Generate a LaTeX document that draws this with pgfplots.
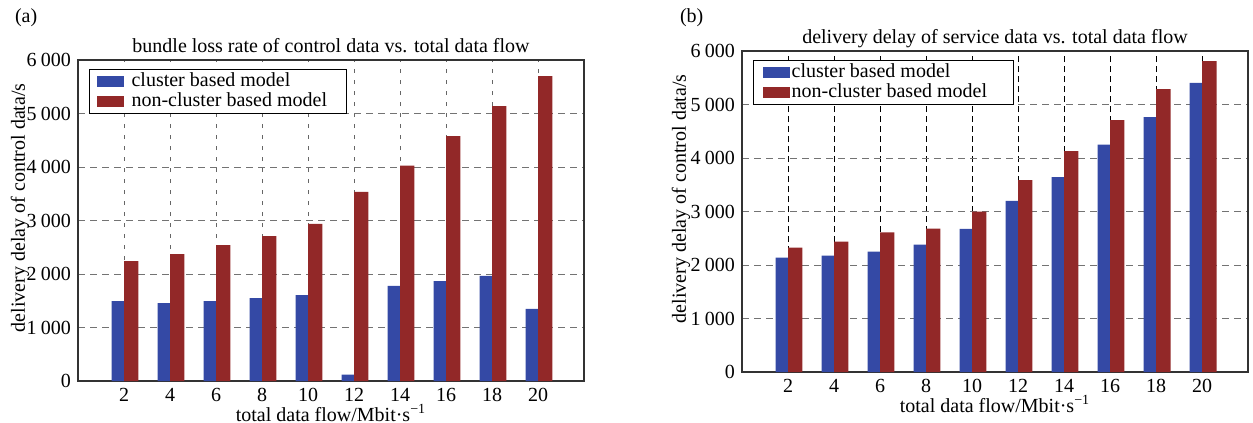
\documentclass[border=0pt]{standalone}
\usepackage{pgfplots}
\pgfplotsset{compat=1.18}
\usepackage{fontspec}
\setmainfont{Liberation Serif}
\definecolor{cblue}{RGB}{52,73,165}
\definecolor{cred}{RGB}{146,40,40}
\pgfplotsset{
  common/.style={
    scale only axis, width=253pt, height=160.5pt,
    xmin=0, xmax=22, ymin=0, ymax=6000,
    xtick={2,4,...,20}, ytick={0,1000,...,6000},
    major tick length=0pt,
    axis line style={draw=black!80, line width=0.6pt},
    xmajorgrids, ymajorgrids,
    y grid style={black!55, line width=0.5pt, dash pattern=on 3.5pt off 2.5pt},
    scaled y ticks=false,
    /pgf/number format/assume math mode=true,
    /pgf/number format/1000 sep={\hspace{0.22em}},
    tick label style={font=\fontsize{10}{12}\selectfont},
    label style={font=\fontsize{10}{12}\selectfont},
    title style={font=\fontsize{10}{12}\selectfont, at={(0.5,1)}, anchor=base, yshift=-2pt},
    ylabel={delivery delay of control data/s},
    xlabel={total data flow/Mbit·s\textsuperscript{−1}},
    xlabel style={at={(axis description cs:0.5,-0.0997)}, anchor=center},
    legend cell align=left,
    legend image code/.code={\fill[##1, draw=none] (0pt,-2.75pt) rectangle (13.5pt,2.75pt);},
  },
  blueb/.style={ybar, bar width=0.54, bar shift=-0.27, fill=cblue, draw=none},
  redb/.style={ybar, bar width=0.63, bar shift=0.315, fill=cred, draw=none},
}
\begin{document}
\begin{tikzpicture}
\useasboundingbox (0,0) rectangle (626.5pt,-211.5pt);
\node[anchor=base west, font=\fontsize{10}{12}\selectfont] at (4pt,-11pt) {(a)};
\node[anchor=base west, font=\fontsize{10}{12}\selectfont] at (336.5pt,-11pt) {(b)};
\begin{axis}[common,
  at={(39pt,-190.5pt)}, anchor=south west,
  title={bundle loss rate of control data vs. total data flow},
  x grid style={black!60, line width=0.5pt, dash pattern=on 2.2pt off 3.3pt},
  ylabel style={at={(axis description cs:-0.1146,0.54)}, anchor=center},
  legend style={at={(0.0217,0.972)}, anchor=north west, draw=black, line width=0.6pt,
    fill=white, inner xsep=3.5pt, inner ysep=1pt, row sep=0pt,
    font=\fontsize{10}{12}\selectfont,
    nodes={inner ysep=0pt, inner xsep=0pt, text height=7.5pt, text depth=2.5pt},
    /tikz/every odd column/.append style={column sep=4pt}},
]
\addplot[blueb] coordinates {(2,1495) (4,1458) (6,1495) (8,1551) (10,1607) (12,118) (14,1776) (16,1869) (18,1963) (20,1346)};
\addplot[redb] coordinates {(2,2243) (4,2374) (6,2542) (8,2710) (10,2935) (12,3533) (14,4024) (16,4579) (18,5140) (20,5700)};
\legend{\makebox[104pt][l]{cluster based model},\makebox[104pt][l]{non-cluster based model}}
\end{axis}
\begin{axis}[common,
  at={(371pt,-186pt)}, anchor=south west,
  title={delivery delay of service data vs. total data flow},
  x grid style={black, line width=0.5pt, dash pattern=on 3pt off 2pt},
  ylabel style={at={(axis description cs:-0.1206,0.54)}, anchor=center},
  legend style={at={(0.0208,0.972)}, anchor=north west, draw=black, line width=0.6pt,
    fill=white, inner xsep=4.75pt, inner ysep=1pt, row sep=0pt,
    font=\fontsize{10}{12}\selectfont,
    nodes={inner ysep=0pt, inner xsep=0pt, text height=7.5pt, text depth=2.5pt},
    /tikz/every odd column/.append style={column sep=1pt}},
]
\addplot[blueb] coordinates {(2,2140) (4,2177) (6,2252) (8,2383) (10,2676) (12,3200) (14,3643) (16,4248) (18,4765) (20,5405)};
\addplot[redb] coordinates {(2,2327) (4,2439) (6,2608) (8,2680) (10,3000) (12,3586) (14,4129) (16,4709) (18,5289) (20,5813)};
\legend{\makebox[106pt][l]{cluster based model},\makebox[106pt][l]{non-cluster based model}}
\end{axis}
\end{tikzpicture}
\end{document}
